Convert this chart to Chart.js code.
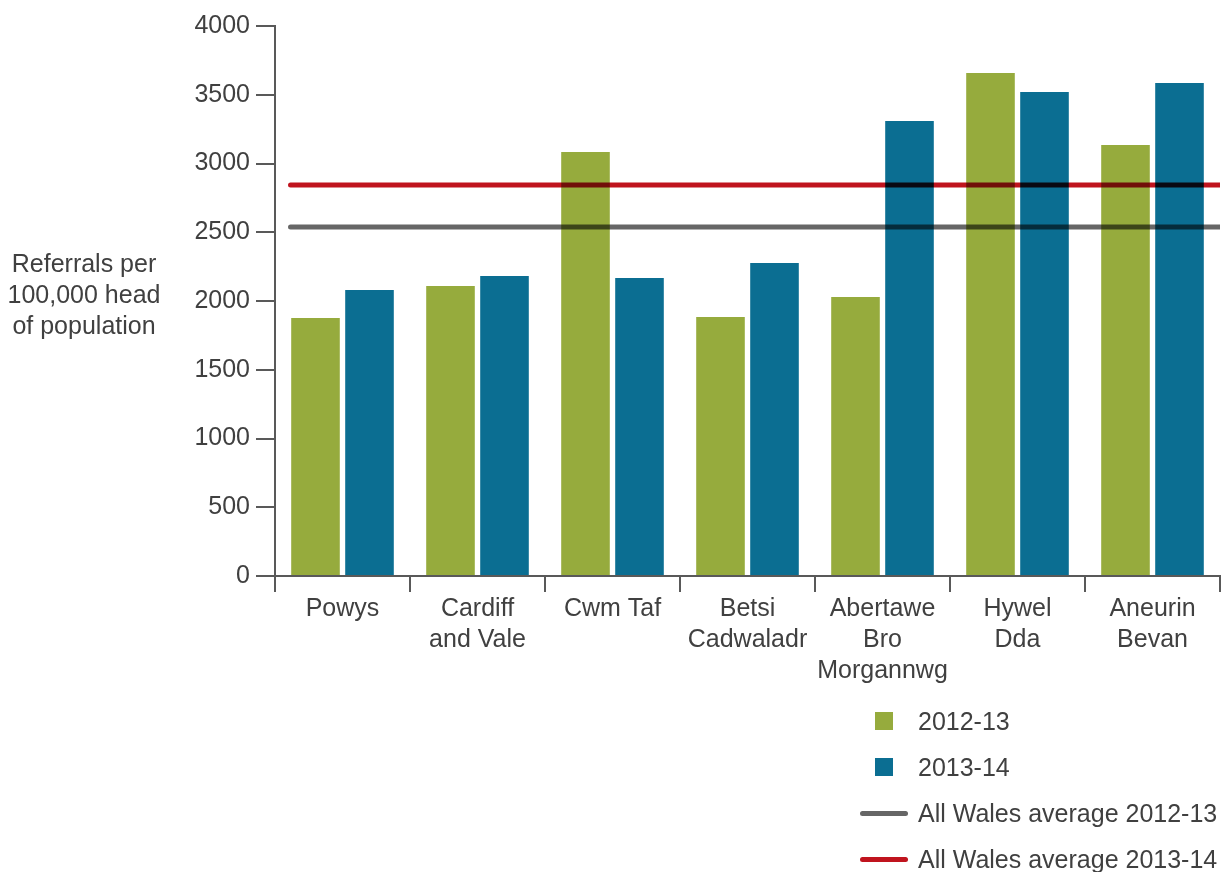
<!DOCTYPE html>
<html>
<head>
<meta charset="utf-8">
<script src="https://cdn.jsdelivr.net/npm/chart.js@4.4.1/dist/chart.umd.min.js"></script>
<style>
  html, body { margin: 0; padding: 0; background: #fff; }
  body { width: 1230px; height: 872px; position: relative; overflow: hidden; font-family: "Liberation Sans", Arial, sans-serif; }
  #wrap { position: absolute; left: 0; top: 0; width: 1230px; height: 700px; }
  #legend { position: absolute; left: 860px; top: 698px; color: #404040; font-size: 25px; }
  .item { height: 46px; display: flex; align-items: center; }
  .sw { width: 48px; display: flex; justify-content: center; margin-right: 10px; }
  .box { width: 18px; height: 18px; }
  .ln { width: 48px; height: 5px; border-radius: 3px; }
</style>
</head>
<body>
<div id="wrap"><canvas id="chart"></canvas></div>
<div id="legend"></div>
<script>
const boards = [['Powys'], ['Cardiff', 'and Vale'], ['Cwm Taf'], ['Betsi', 'Cadwaladr'],
  ['Abertawe', 'Bro', 'Morgannwg'], ['Hywel', 'Dda'], ['Aneurin', 'Bevan']];
const rate2012 = [1876, 2109, 3084, 1884, 2029, 3658, 3135];
const rate2013 = [2080, 2182, 2167, 2276, 3309, 3520, 3585];
const walesAvg2012 = 2538;
const walesAvg2013 = 2844;
const yTicks = [0, 500, 1000, 1500, 2000, 2500, 3000, 3500, 4000];

const COLORS = { green: '#96ab3d', blue: '#0b6e92', grey: '#666666', red: '#c0141e', axis: '#595959', text: '#404040' };
const FONT = '"Liberation Sans", Arial, sans-serif';

// average lines run across the whole plot; category index units, unparsed
function avgLine(label, value, color) {
  return {
    type: 'line', label, order: 0, parsing: false, clip: 0,
    data: [{ x: -0.385, y: value }, { x: 6.6, y: value }],
    borderColor: color, borderWidth: 5, borderCapStyle: 'round',
    pointRadius: 0, fill: false
  };
}

const multiplyLines = {
  id: 'multiplyLines',
  beforeDatasetDraw(chart, args) {
    if (chart.data.datasets[args.index].type === 'line') {
      chart.ctx.save();
      chart.ctx.globalCompositeOperation = 'multiply';
    }
  },
  afterDatasetDraw(chart, args) {
    if (chart.data.datasets[args.index].type === 'line') chart.ctx.restore();
  }
};

const yTitle = {
  id: 'yTitle',
  afterDraw(chart) {
    const ctx = chart.ctx;
    ctx.save();
    ctx.font = `25px ${FONT}`;
    ctx.fillStyle = COLORS.text;
    ctx.textAlign = 'center';
    ctx.textBaseline = 'alphabetic';
    ['Referrals per', '100,000 head', 'of population'].forEach((t, i) => ctx.fillText(t, 84, 272 + i * 31));
    ctx.restore();
  }
};

const chart = new Chart(document.getElementById('chart'), {
  type: 'bar',
  data: {
    labels: boards,
    datasets: [
      { label: '2012-13', data: rate2012, backgroundColor: COLORS.green, order: 1, categoryPercentage: 0.8, barPercentage: 0.9 },
      { label: '2013-14', data: rate2013, backgroundColor: COLORS.blue, order: 1, categoryPercentage: 0.8, barPercentage: 0.9 },
      avgLine('All Wales average 2012-13', walesAvg2012, COLORS.grey),
      avgLine('All Wales average 2013-14', walesAvg2013, COLORS.red)
    ]
  },
  options: {
    responsive: true,
    maintainAspectRatio: false,
    animation: false,
    layout: { padding: { top: 26, right: 10, left: 0, bottom: 0 } },
    plugins: { legend: { display: false }, tooltip: { enabled: false } },
    scales: {
      x: {
        offset: true,
        grid: { offset: true, drawOnChartArea: false, tickLength: 16, color: COLORS.axis, lineWidth: 2 },
        border: { color: COLORS.axis, width: 2 },
        ticks: { color: COLORS.text, font: { family: FONT, size: 25, lineHeight: 1.24 }, padding: 2, maxRotation: 0, autoSkip: false },
        afterFit(scale) { scale.height = 124; }
      },
      y: {
        min: 0, max: 4000,
        afterBuildTicks(scale) { scale.ticks = yTicks.map(v => ({ value: v })); },
        grid: { drawOnChartArea: false, tickLength: 19, color: COLORS.axis, lineWidth: 2 },
        border: { color: COLORS.axis, width: 2 },
        ticks: { color: COLORS.text, font: { family: FONT, size: 25 }, padding: 6, callback: v => String(v) },
        afterFit(scale) { scale.width = 275; }
      }
    }
  },
  plugins: [multiplyLines, yTitle]
});

// legend, built from the datasets
const legend = document.getElementById('legend');
chart.data.datasets.forEach(ds => {
  const item = document.createElement('div');
  item.className = 'item';
  const sw = document.createElement('div');
  sw.className = 'sw';
  const mark = document.createElement('div');
  if (ds.type === 'line') { mark.className = 'ln'; mark.style.background = ds.borderColor; }
  else { mark.className = 'box'; mark.style.background = ds.backgroundColor; }
  sw.appendChild(mark);
  item.appendChild(sw);
  item.appendChild(document.createTextNode(ds.label));
  legend.appendChild(item);
});
</script>
</body>
</html>
